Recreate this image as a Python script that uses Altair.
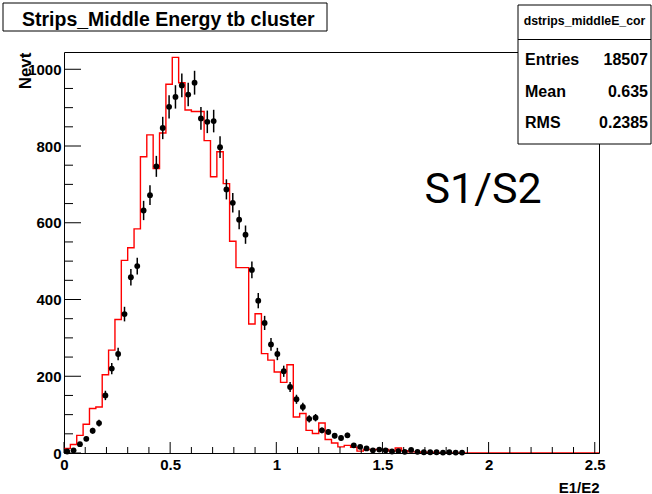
import altair as alt
import numpy as np
import pandas as pd

# ---- data ----
bin_width = 0.03
data_counts = [4, 7, 23, 37, 58, 78, 150, 220, 258, 362, 458, 487,
               632, 672, 747, 847, 902, 928, 958, 934, 965, 872, 863, 865,
               797, 687, 652, 608, 569, 477, 397, 339, 283, 258, 213, 172,
               140, 120, 89, 92, 59, 55, 45, 39, 46, 20, 16, 12,
               7, 9, 7, 4, 5, 3, 8, 3, 2, 2, 2, 1, 2, 1, 1]
mc_counts = [12, 22, 46, 75, 116, 120, 204, 268, 348, 502, 535, 584,
             772, 829, 741, 834, 961, 1031, 965, 894, 890, 890, 814, 720,
             785, 702, 552, 483, 483, 336, 363, 259, 242, 211, 184, 230,
             94, 103, 59, 51, 78, 35, 26, 16, 20, 15, 5, 9,
             9, 9, 9, 5, 13, 6, 3, 3, 2, 2, 1, 1, 0, 0,
             0, 0, 0, 0, 0, 0, 0, 0, 0, 0, 0, 0,
             0, 0, 0, 0, 0, 0, 0, 0, 0, 0]
x_major = [0, 0.5, 1, 1.5, 2, 2.5]
x_minor = [0.1, 0.2, 0.3, 0.4, 0.6, 0.7, 0.8, 0.9, 1.1, 1.2, 1.3, 1.4,
           1.6, 1.7, 1.8, 1.9, 2.1, 2.2, 2.3, 2.4]
y_major = [0, 200, 400, 600, 800, 1000]
y_minor = [50, 100, 150, 250, 300, 350, 450, 500, 550, 650, 700, 750,
           850, 900, 950]

W, H = 535, 401

centers = [bin_width * (k + 0.5) for k in range(len(data_counts))]
err = np.sqrt(np.array(data_counts, dtype=float))
df_pts = pd.DataFrame({
    "x": centers,
    "y": data_counts,
    "lo": np.array(data_counts) - err,
    "hi": np.array(data_counts) + err,
})
edges = [bin_width * k for k in range(len(mc_counts) + 1)]
df_mc = pd.DataFrame({"x": edges, "y": mc_counts + [mc_counts[-1]]})

FONT = "Liberation Sans"
xs = alt.Scale(domain=[0, 2.52], nice=False, zero=False)
ys = alt.Scale(domain=[0, 1045], nice=False)

x_axis = alt.Axis(values=x_major, format="~g", title="E1/E2", grid=False,
                  ticks=False, domain=False, labelFont=FONT,
                  labelFontWeight="bold", labelFontSize=15, labelPadding=4,
                  labelFlush=False, labelOverlap=False, labelColor="black",
                  titleFont=FONT, titleFontWeight="bold", titleFontSize=15,
                  titleColor="black", titleX=W, titleY=39, titleAlign="right",
                  titleBaseline="alphabetic")
y_axis = alt.Axis(values=y_major, format="d", title="Nevt", grid=False,
                  ticks=False, domain=False, labelFont=FONT,
                  labelFontWeight="bold", labelFontSize=15, labelPadding=3,
                  labelFlush=False, labelOverlap=False, labelColor="black",
                  titleFont=FONT, titleFontWeight="bold", titleFontSize=17,
                  titleColor="black", titleAngle=270, titleX=-34, titleY=0,
                  titleAlign="right", titleBaseline="alphabetic")

X = alt.X("x:Q", scale=xs, axis=x_axis)
Y = alt.Y("y:Q", scale=ys, axis=y_axis)

mc = alt.Chart(df_mc).mark_line(color="#ff0000", strokeWidth=1.4,
                                interpolate="step-after", clip=True).encode(x=X, y=Y)
bars = alt.Chart(df_pts).mark_rule(color="black", strokeWidth=1.5).encode(
    x=X, y=alt.Y("lo:Q", scale=ys, axis=y_axis), y2="hi:Q")
pts = alt.Chart(df_pts).mark_point(filled=True, shape="circle", size=34,
                                   color="black", opacity=1).encode(x=X, y=Y)

xt_major = alt.Chart(pd.DataFrame({"x": x_major})).mark_rule(color="black").encode(
    x=X, y=alt.value(H), y2=alt.value(H - 11))
xt_minor = alt.Chart(pd.DataFrame({"x": x_minor})).mark_rule(color="black").encode(
    x=X, y=alt.value(H), y2=alt.value(H - 6))
yt_major = alt.Chart(pd.DataFrame({"y": y_major})).mark_rule(color="black").encode(
    y=Y, x=alt.value(0), x2=alt.value(17))
yt_minor = alt.Chart(pd.DataFrame({"y": y_minor})).mark_rule(color="black").encode(
    y=Y, x=alt.value(0), x2=alt.value(9))

dummy = pd.DataFrame({"d": [0]})
base = alt.Chart(dummy)

title_box = base.mark_rect(fill="white", stroke="black", strokeWidth=1).encode(
    x=alt.value(-61), x2=alt.value(263), y=alt.value(-49), y2=alt.value(-21))
title_txt = base.mark_text(text="Strips_Middle Energy tb cluster", font=FONT,
                           fontWeight="bold", fontSize=19.5, align="left",
                           baseline="alphabetic", color="black").encode(
    x=alt.value(-42), y=alt.value(-26))

stat_box = base.mark_rect(fill="white", stroke="black", strokeWidth=1).encode(
    x=alt.value(454), x2=alt.value(587), y=alt.value(-47), y2=alt.value(92))
stat_sep = base.mark_rule(color="black", strokeWidth=1).encode(
    x=alt.value(454), x2=alt.value(587), y=alt.value(-12.5))
stat_title = base.mark_text(text="dstrips_middleE_cor", font=FONT, fontSize=12.3,
                            fontWeight="bold", align="center", baseline="alphabetic",
                            color="black").encode(
    x=alt.value(520.5), y=alt.value(-27))

stat_layers = []
for lab, val, yb in [("Entries", "18507", 13), ("Mean", "0.635", 45), ("RMS", "0.2385", 76)]:
    stat_layers.append(base.mark_text(text=lab, font=FONT, fontWeight="bold", fontSize=16,
                                      align="left", baseline="alphabetic", color="black").encode(
        x=alt.value(461), y=alt.value(yb)))
    stat_layers.append(base.mark_text(text=val, font=FONT, fontWeight="bold", fontSize=16,
                                      align="right", baseline="alphabetic", color="black").encode(
        x=alt.value(584), y=alt.value(yb)))

s_txt = base.mark_text(text="S1/S2", font="Roboto", fontSize=43, align="center",
                       baseline="alphabetic", color="black").encode(
    x=alt.value(419), y=alt.value(151))

chart = alt.layer(
    mc, bars, pts, xt_major, xt_minor, yt_major, yt_minor, s_txt,
    title_box, title_txt, stat_box, stat_sep, stat_title, *stat_layers
).properties(
    width=W, height=H,
    autosize=alt.AutoSizeParams(type="none"),
    padding={"left": 64, "top": 52, "right": 53, "bottom": 41},
    background="white",
).configure_view(stroke="black", strokeWidth=1)

chart.save("out.html", embed_options={"renderer": "svg", "actions": False})
